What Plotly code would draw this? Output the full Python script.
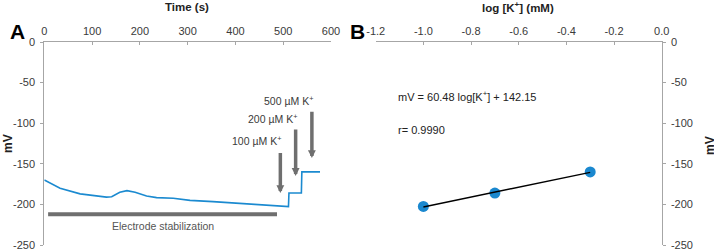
import numpy as np
import plotly.graph_objects as go

W, H = 714, 251

# ---------------- data ----------------
# Panel A: potential trace over time
time_s = [0, 33, 75, 102, 130, 141, 158, 173, 190, 214, 235, 270, 305, 353, 423, 493, 511, 512, 538, 539, 577]
mv_trace = [-170, -180, -187, -189, -191, -190.5, -185, -183, -185, -189.7, -191.7, -192.5, -195, -196.6, -199.5, -202.4, -202.8, -186, -186, -160, -160]

# additions (arrows)
add_labels = ["100 µM K<sup>+</sup>", "200 µM K<sup>+</sup>", "500 µM K<sup>+</sup>"]
arrow_time = [494, 526, 560]
arrow_top = [-135, -106, -84]
arrow_tip = [-186, -165, -143]
label_time = [499, 532, 566]
label_mv = [-121.5, -94, -71.5]

# electrode stabilization bar
stab_time = [8, 487]
stab_mv = [-212, -212]
stab_label = "Electrode stabilization"
stab_label_time = 248
stab_label_mv = -226

# Panel B: calibration
log_k = [-1.0, -0.7, -0.3]
mv_cal = [-202.5, -186, -160]
eq_text = "mV = 60.48 log[K<sup>+</sup>] + 142.15"
r_text = "r= 0.9990"

# ticks
time_ticks = [0, 100, 200, 300, 400, 500, 600]
time_ticktext = ["0", "100", "200", "300", "400", "500", "600"]
mv_ticks = [0, -50, -100, -150, -200, -250]
mv_ticktext = ["0", "-50", "-100", "-150", "-200", "-250"]
logk_ticks = [-1.2, -1.0, -0.8, -0.6, -0.4, -0.2, 0.0]
logk_ticktext = ["-1.2", "-1.0", "-0.8", "-0.6", "-0.4", "-0.2", "0.0"]

# ---------------- styling ----------------
FONT = "Liberation Sans, Arial, sans-serif"
AXC = "#a6a6a6"
TXT = "#3a3a3a"
BLUE = "#1b8ad0"
GRAY = "#6f6f6f"

def px(x):
    return x / W

def py(y):
    return 1 - y / H

yA_dom = [py(245), py(42)]

fig = go.Figure()

fig.add_trace(go.Scatter(x=time_s, y=mv_trace, mode="lines",
                         line=dict(color=BLUE, width=1.6),
                         xaxis="x", yaxis="y", showlegend=False, hoverinfo="skip"))
fig.add_trace(go.Scatter(x=stab_time, y=stab_mv, mode="lines",
                         line=dict(color=GRAY, width=4),
                         xaxis="x", yaxis="y", showlegend=False, hoverinfo="skip"))

# fit line for panel B
coef = np.polyfit(log_k, mv_cal, 1)
fit_x = [min(log_k), max(log_k)]
fit_y = [float(np.polyval(coef, v)) for v in fit_x]
fig.add_trace(go.Scatter(x=log_k, y=mv_cal, mode="markers",
                         marker=dict(color="#1a88cf", size=11),
                         xaxis="x2", yaxis="y2", showlegend=False, hoverinfo="skip"))
fig.add_trace(go.Scatter(x=fit_x, y=fit_y, mode="lines",
                         line=dict(color="black", width=1.4),
                         xaxis="x2", yaxis="y2", showlegend=False, hoverinfo="skip"))

tickfont = dict(family=FONT, size=11, color=TXT)
common = dict(showline=True, linecolor=AXC, linewidth=1, showgrid=False, zeroline=False,
              tickcolor=AXC, ticklen=3, tickfont=tickfont, automargin=False)

fig.update_layout(
    width=W, height=H, autosize=False,
    margin=dict(l=0, r=0, t=0, b=0, pad=0),
    paper_bgcolor="white", plot_bgcolor="white",
    xaxis=dict(domain=[px(44.3), px(331)], range=[0, 600], side="top", anchor="y",
               tickvals=time_ticks, ticktext=time_ticktext,
               ticks="inside", ticklabelstandoff=2, **common),
    yaxis=dict(domain=yA_dom, range=[-250, 0], anchor="x", side="left",
               tickvals=mv_ticks, ticktext=mv_ticktext,
               ticks="outside", ticklabelstandoff=3, **common),
    xaxis2=dict(domain=[px(375.7), px(661.7)], range=[-1.2, 0], side="top", anchor="y2",
                tickvals=logk_ticks, ticktext=logk_ticktext,
                ticks="inside", ticklabelstandoff=2, **common),
    yaxis2=dict(domain=yA_dom, range=[-250, 0], anchor="x2", side="right",
                tickvals=mv_ticks, ticktext=mv_ticktext,
                ticks="outside", ticklabelstandoff=3, **common),
)

ann = []
# arrows
for t, top, tip in zip(arrow_time, arrow_top, arrow_tip):
    ann.append(dict(x=t, y=tip, ax=t, ay=top, xref="x", yref="y", axref="x", ayref="y",
                    showarrow=True, arrowhead=2, arrowsize=0.45, arrowwidth=3.5,
                    arrowcolor=GRAY, standoff=0, text=""))
for lab, t, m in zip(add_labels, label_time, label_mv):
    ann.append(dict(x=t, y=m, xref="x", yref="y", text=lab, showarrow=False,
                    xanchor="right", yanchor="middle",
                    font=dict(family=FONT, size=10.5, color=TXT)))
ann.append(dict(x=stab_label_time, y=stab_label_mv, xref="x", yref="y", text=stab_label,
                showarrow=False, xanchor="center", yanchor="middle",
                font=dict(family=FONT, size=10.5, color="#555555")))

# panel B texts
ann.append(dict(x=px(396), y=py(96), xref="paper", yref="paper", text=eq_text,
                showarrow=False, xanchor="left", yanchor="middle",
                font=dict(family=FONT, size=11, color="#222222")))
ann.append(dict(x=px(396), y=py(130), xref="paper", yref="paper", text=r_text,
                showarrow=False, xanchor="left", yanchor="middle",
                font=dict(family=FONT, size=11, color="#222222")))

# axis titles
ann.append(dict(x=px(187), y=py(7), xref="paper", yref="paper", text="<b>Time (s)</b>",
                showarrow=False, xanchor="center", yanchor="middle",
                font=dict(family=FONT, size=11.5, color="#222222")))
ann.append(dict(x=px(518), y=py(7), xref="paper", yref="paper", text="<b>log [K<sup>+</sup>] (mM)</b>",
                showarrow=False, xanchor="center", yanchor="middle",
                font=dict(family=FONT, size=11.5, color="#222222")))
ann.append(dict(x=px(8), y=py(144), xref="paper", yref="paper", text="<b>mV</b>", textangle=-90,
                showarrow=False, xanchor="center", yanchor="middle",
                font=dict(family=FONT, size=12, color="#222222")))
ann.append(dict(x=px(710), y=py(146), xref="paper", yref="paper", text="<b>mV</b>", textangle=-90,
                showarrow=False, xanchor="center", yanchor="middle",
                font=dict(family=FONT, size=12, color="#222222")))
# panel letters
ann.append(dict(x=px(17.5), y=py(31), xref="paper", yref="paper", text="<b>A</b>",
                showarrow=False, xanchor="center", yanchor="middle",
                font=dict(family=FONT, size=21, color="black")))
ann.append(dict(x=px(357), y=py(31), xref="paper", yref="paper", text="<b>B</b>",
                showarrow=False, xanchor="center", yanchor="middle",
                font=dict(family=FONT, size=21, color="black")))

fig.update_layout(annotations=ann)
fig.write_html("out.html", config={"displayModeBar": False},
               post_script="document.body.style.margin='0';document.body.style.overflow='hidden';")
